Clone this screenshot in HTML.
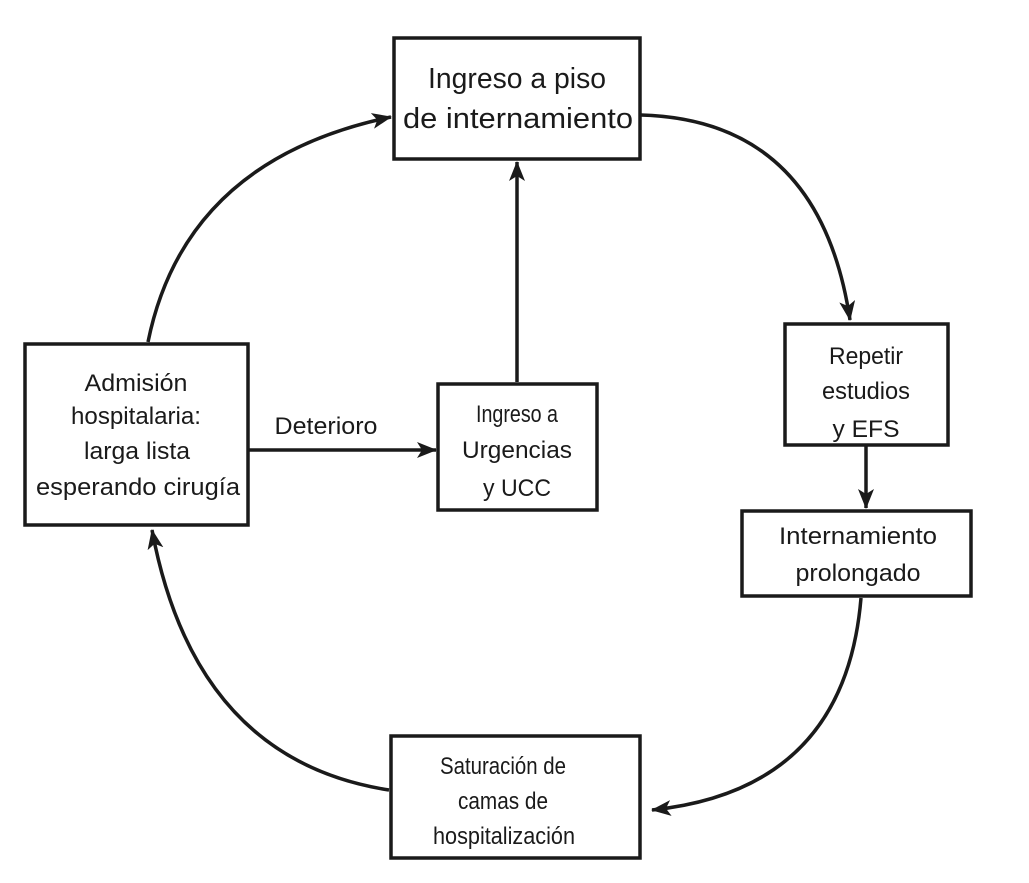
<!DOCTYPE html>
<html><head><meta charset="utf-8"><style>
html,body{margin:0;padding:0;background:#fff;}
svg{display:block;}
text{font-family:"Liberation Sans Narrow","Liberation Sans",sans-serif;fill:#1a1a1a;text-anchor:middle;}
</style></head><body>
<svg width="1029" height="883" viewBox="0 0 1029 883" xmlns="http://www.w3.org/2000/svg">
<defs>
<marker id="a" markerWidth="12" markerHeight="12" refX="10" refY="6" orient="auto" markerUnits="userSpaceOnUse" viewBox="0 0 12 12">
</marker>
<marker id="ah" viewBox="0 0 20 16" refX="19" refY="8" markerWidth="20" markerHeight="16" orient="auto" markerUnits="userSpaceOnUse">
<path d="M0,0 L20,8 L0,16 L5,8 Z" fill="#1a1a1a"/>
</marker>
</defs>
<g fill="none" stroke="#1a1a1a" stroke-width="3.5">
<rect x="394" y="38" width="246" height="121"/>
<rect x="25" y="344" width="223" height="181"/>
<rect x="438" y="384" width="159" height="126"/>
<rect x="785" y="324" width="163" height="121"/>
<rect x="742" y="511" width="229" height="85"/>
<rect x="391" y="736" width="249" height="122"/>
</g>
<g fill="none" stroke="#1a1a1a" stroke-width="3.5" marker-end="url(#ah)">
<path d="M148,342 Q185,160 391,117"/>
<path d="M641,115 Q820,120 850,320"/>
<path d="M861,598 Q845,790 652,810"/>
<path d="M389,790 Q195,760 152,530"/>
<path d="M517,382 L517,162"/>
<path d="M249,450 L436,450"/>
<path d="M866,446 L866,508"/>
</g>
<g font-size="29">
<text x="517" y="88" textLength="178" lengthAdjust="spacingAndGlyphs">Ingreso a piso</text>
<text x="518" y="128" textLength="230" lengthAdjust="spacingAndGlyphs">de internamiento</text>
</g>
<g font-size="24">
<text x="136" y="391" textLength="103" lengthAdjust="spacingAndGlyphs">Admisión</text>
<text x="136" y="424" textLength="130" lengthAdjust="spacingAndGlyphs">hospitalaria:</text>
<text x="137" y="459" textLength="106" lengthAdjust="spacingAndGlyphs">larga lista</text>
<text x="138" y="495" textLength="204" lengthAdjust="spacingAndGlyphs">esperando cirugía</text>
<text x="326" y="434" textLength="103" lengthAdjust="spacingAndGlyphs">Deterioro</text>
<text x="517" y="422" textLength="82" lengthAdjust="spacingAndGlyphs">Ingreso a</text>
<text x="517" y="458" textLength="110" lengthAdjust="spacingAndGlyphs">Urgencias</text>
<text x="517" y="496" textLength="68" lengthAdjust="spacingAndGlyphs">y UCC</text>
<text x="866" y="364" textLength="74" lengthAdjust="spacingAndGlyphs">Repetir</text>
<text x="866" y="399" textLength="88" lengthAdjust="spacingAndGlyphs">estudios</text>
<text x="866" y="437" textLength="67" lengthAdjust="spacingAndGlyphs">y EFS</text>
<text x="858" y="544" textLength="158" lengthAdjust="spacingAndGlyphs">Internamiento</text>
<text x="858" y="581" textLength="125" lengthAdjust="spacingAndGlyphs">prolongado</text>
<text x="503" y="774" textLength="126" lengthAdjust="spacingAndGlyphs">Saturación de</text>
<text x="503" y="809" textLength="90" lengthAdjust="spacingAndGlyphs">camas de</text>
<text x="504" y="844" textLength="142" lengthAdjust="spacingAndGlyphs">hospitalización</text>
</g>
</svg>
</body></html>
